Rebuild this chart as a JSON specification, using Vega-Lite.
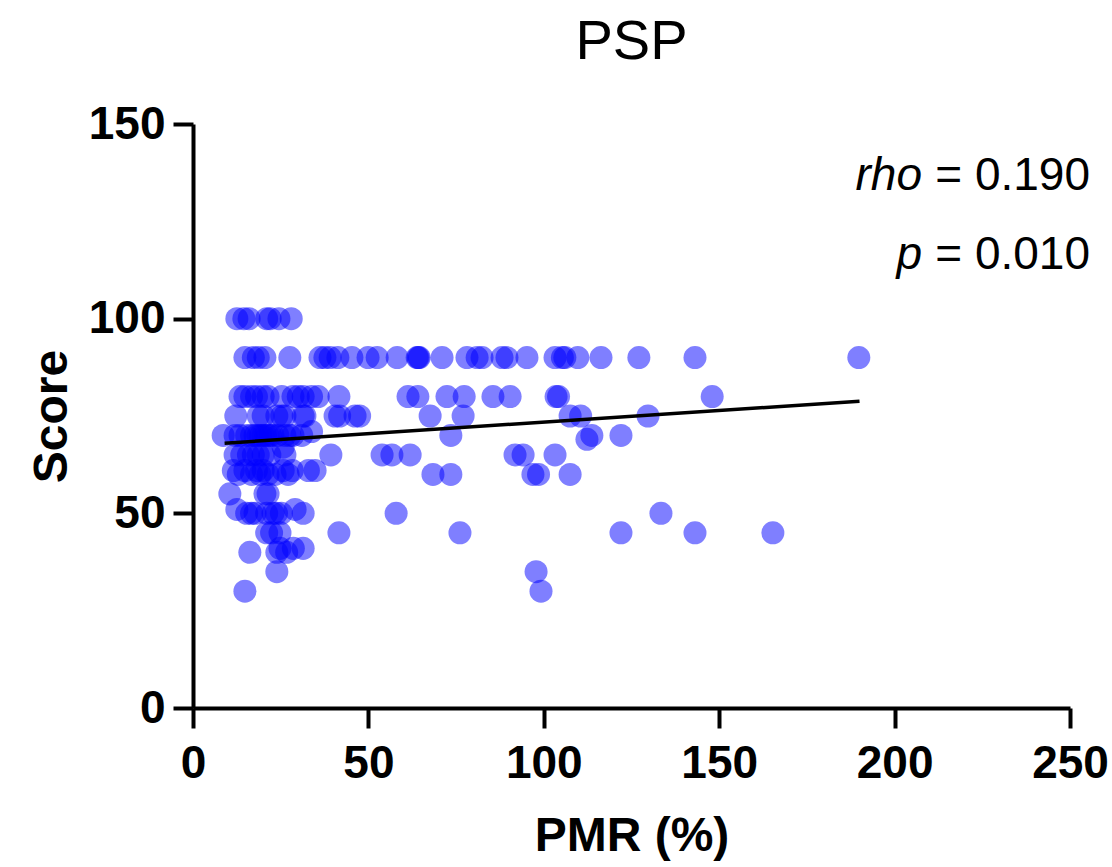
{
  "$schema": "https://vega.github.io/schema/vega-lite/v6.json",
  "width": 877,
  "height": 584,
  "autosize": {"type": "none"},
  "padding": {"left": 193, "top": 124, "right": 42, "bottom": 159},
  "background": "white",
  "config": {
    "view": {"stroke": null},
    "font": "Liberation Sans",
    "axis": {
      "grid": false,
      "domainColor": "black",
      "domainWidth": 4,
      "tickColor": "black",
      "tickWidth": 4,
      "tickSize": 20,
      "labelFlush": false,
      "labelFont": "Liberation Sans",
      "labelFontWeight": "bold",
      "labelFontSize": 46,
      "labelColor": "black",
      "titleFont": "Liberation Sans",
      "titleFontWeight": "bold",
      "titleFontSize": 48,
      "titleColor": "black"
    }
  },
  "title": {
    "text": "PSP",
    "font": "Liberation Sans",
    "fontSize": 56,
    "fontWeight": "normal",
    "color": "black",
    "anchor": "middle",
    "offset": 30
  },
  "datasets": {
    "pts": [
      {"pmr": 12.5, "score": 100}, {"pmr": 14.5, "score": 100}, {"pmr": 16, "score": 100}, {"pmr": 21, "score": 100}, {"pmr": 22, "score": 100}, {"pmr": 24.5, "score": 100}, {"pmr": 28, "score": 100},
      {"pmr": 14.8, "score": 90}, {"pmr": 17.2, "score": 90}, {"pmr": 18.6, "score": 90}, {"pmr": 20.5, "score": 90}, {"pmr": 27.6, "score": 90}, {"pmr": 36.2, "score": 90}, {"pmr": 37.6, "score": 90}, {"pmr": 39.1, "score": 90}, {"pmr": 41.3, "score": 90}, {"pmr": 45.3, "score": 90}, {"pmr": 49.9, "score": 90}, {"pmr": 52.5, "score": 90}, {"pmr": 58.2, "score": 90}, {"pmr": 63.9, "score": 90}, {"pmr": 64.2, "score": 90}, {"pmr": 64.5, "score": 90}, {"pmr": 71, "score": 90}, {"pmr": 78.1, "score": 90}, {"pmr": 81, "score": 90}, {"pmr": 82.4, "score": 90}, {"pmr": 88.1, "score": 90}, {"pmr": 89.5, "score": 90}, {"pmr": 95.2, "score": 90}, {"pmr": 103.2, "score": 90}, {"pmr": 105.3, "score": 90}, {"pmr": 106, "score": 90}, {"pmr": 109.7, "score": 90}, {"pmr": 116.3, "score": 90}, {"pmr": 127.1, "score": 90}, {"pmr": 143.1, "score": 90}, {"pmr": 189.8, "score": 90},
      {"pmr": 13.4, "score": 80}, {"pmr": 14.8, "score": 80}, {"pmr": 16.7, "score": 80}, {"pmr": 18.1, "score": 80}, {"pmr": 20, "score": 80}, {"pmr": 21.4, "score": 80}, {"pmr": 25.3, "score": 80}, {"pmr": 28.5, "score": 80}, {"pmr": 30, "score": 80}, {"pmr": 31.4, "score": 80}, {"pmr": 33.8, "score": 80}, {"pmr": 35.7, "score": 80}, {"pmr": 41.6, "score": 80}, {"pmr": 61.3, "score": 80}, {"pmr": 64.1, "score": 80}, {"pmr": 72.4, "score": 80}, {"pmr": 77.3, "score": 80}, {"pmr": 85.5, "score": 80}, {"pmr": 90.4, "score": 80}, {"pmr": 103.5, "score": 80}, {"pmr": 104.2, "score": 80}, {"pmr": 148, "score": 80},
      {"pmr": 12.2, "score": 75}, {"pmr": 18.6, "score": 75}, {"pmr": 20, "score": 75}, {"pmr": 23.9, "score": 75}, {"pmr": 25.3, "score": 75}, {"pmr": 26.2, "score": 75}, {"pmr": 31.4, "score": 75}, {"pmr": 31.9, "score": 75}, {"pmr": 40.5, "score": 75}, {"pmr": 41.8, "score": 75}, {"pmr": 46.2, "score": 75}, {"pmr": 47.5, "score": 75}, {"pmr": 67.6, "score": 75}, {"pmr": 77, "score": 75}, {"pmr": 107.5, "score": 75}, {"pmr": 110.5, "score": 75}, {"pmr": 129.7, "score": 75},
      {"pmr": 33.8, "score": 71},
      {"pmr": 8.6, "score": 70}, {"pmr": 12, "score": 70}, {"pmr": 13.4, "score": 70}, {"pmr": 15.3, "score": 70}, {"pmr": 16.7, "score": 70}, {"pmr": 17.7, "score": 70}, {"pmr": 18.6, "score": 70}, {"pmr": 19.3, "score": 70}, {"pmr": 20, "score": 70}, {"pmr": 20.7, "score": 70}, {"pmr": 21.4, "score": 70}, {"pmr": 22.1, "score": 70}, {"pmr": 22.8, "score": 70}, {"pmr": 24.2, "score": 70}, {"pmr": 26.2, "score": 70}, {"pmr": 27.6, "score": 70}, {"pmr": 28.5, "score": 70}, {"pmr": 31, "score": 70}, {"pmr": 73.5, "score": 70}, {"pmr": 113.7, "score": 70}, {"pmr": 122, "score": 70}, {"pmr": 112.3, "score": 69},
      {"pmr": 25.7, "score": 67},
      {"pmr": 12, "score": 65}, {"pmr": 13.9, "score": 65}, {"pmr": 15.8, "score": 65}, {"pmr": 17.2, "score": 65}, {"pmr": 18.6, "score": 65}, {"pmr": 20, "score": 65}, {"pmr": 21.9, "score": 65}, {"pmr": 26.2, "score": 65}, {"pmr": 39.3, "score": 65}, {"pmr": 53.9, "score": 65}, {"pmr": 56.7, "score": 65}, {"pmr": 61.9, "score": 65}, {"pmr": 91.8, "score": 65}, {"pmr": 94.1, "score": 65}, {"pmr": 103.2, "score": 65},
      {"pmr": 11.5, "score": 61}, {"pmr": 14.8, "score": 61}, {"pmr": 18.1, "score": 61}, {"pmr": 20, "score": 61}, {"pmr": 25.7, "score": 61}, {"pmr": 28.3, "score": 61}, {"pmr": 32.9, "score": 61}, {"pmr": 34.8, "score": 61},
      {"pmr": 12.9, "score": 60}, {"pmr": 16.7, "score": 60}, {"pmr": 19.1, "score": 60}, {"pmr": 21.4, "score": 60}, {"pmr": 23.4, "score": 60}, {"pmr": 27.1, "score": 60}, {"pmr": 68.4, "score": 60}, {"pmr": 73.5, "score": 60}, {"pmr": 96.9, "score": 60}, {"pmr": 98.5, "score": 60}, {"pmr": 107.5, "score": 60},
      {"pmr": 10.5, "score": 55}, {"pmr": 20.5, "score": 55}, {"pmr": 21.4, "score": 55},
      {"pmr": 12.5, "score": 51}, {"pmr": 29.1, "score": 51},
      {"pmr": 15.3, "score": 50}, {"pmr": 16.7, "score": 50}, {"pmr": 17.7, "score": 50}, {"pmr": 21, "score": 50}, {"pmr": 22.8, "score": 50}, {"pmr": 23.8, "score": 50}, {"pmr": 25.2, "score": 50}, {"pmr": 31.4, "score": 50}, {"pmr": 57.9, "score": 50}, {"pmr": 133.4, "score": 50},
      {"pmr": 21, "score": 45}, {"pmr": 22.4, "score": 45}, {"pmr": 24.8, "score": 45}, {"pmr": 41.6, "score": 45}, {"pmr": 76.1, "score": 45}, {"pmr": 122, "score": 45}, {"pmr": 143.1, "score": 45}, {"pmr": 165.3, "score": 45},
      {"pmr": 24.8, "score": 41}, {"pmr": 28.6, "score": 41}, {"pmr": 31.4, "score": 41},
      {"pmr": 16.2, "score": 40}, {"pmr": 23.9, "score": 40}, {"pmr": 26.7, "score": 40},
      {"pmr": 23.9, "score": 35}, {"pmr": 97.8, "score": 35},
      {"pmr": 14.8, "score": 30}, {"pmr": 99.2, "score": 30}
    ],
    "fit": [
      {"pmr": 9, "score": 68},
      {"pmr": 190, "score": 78.8}
    ],
    "ann": [
      {"pmr": 250, "score": 133, "ital": "rho", "rest": "= 0.190"},
      {"pmr": 250, "score": 112.7, "ital": "p", "rest": "= 0.010"}
    ]
  },
  "layer": [
    {
      "data": {"name": "pts"},
      "mark": {"type": "circle", "size": 530, "color": "#0000ff", "opacity": 0.5, "strokeWidth": 0},
      "encoding": {
        "x": {
          "field": "pmr", "type": "quantitative",
          "scale": {"domain": [0, 250], "nice": false, "zero": false},
          "axis": {"values": [0, 50, 100, 150, 200, 250], "title": "PMR (%)", "labelPadding": 13, "titlePadding": 26}
        },
        "y": {
          "field": "score", "type": "quantitative",
          "scale": {"domain": [0, 150], "nice": false, "zero": false},
          "axis": {"values": [0, 50, 100, 150], "title": "Score", "labelPadding": 8, "titlePadding": 12}
        }
      }
    },
    {
      "data": {"name": "fit"},
      "mark": {"type": "line", "color": "black", "strokeWidth": 3.5},
      "encoding": {
        "x": {"field": "pmr", "type": "quantitative"},
        "y": {"field": "score", "type": "quantitative"}
      }
    },
    {
      "data": {"name": "ann"},
      "mark": {"type": "text", "align": "right", "baseline": "alphabetic", "dx": 20, "fontSize": 46, "font": "Liberation Sans", "color": "black"},
      "encoding": {
        "x": {"field": "pmr", "type": "quantitative"},
        "y": {"field": "score", "type": "quantitative"},
        "text": {"field": "rest"}
      }
    },
    {
      "data": {"name": "ann"},
      "mark": {"type": "text", "align": "right", "baseline": "alphabetic", "dx": -148, "fontSize": 46, "fontStyle": "italic", "font": "Liberation Sans", "color": "black"},
      "encoding": {
        "x": {"field": "pmr", "type": "quantitative"},
        "y": {"field": "score", "type": "quantitative"},
        "text": {"field": "ital"}
      }
    }
  ]
}
